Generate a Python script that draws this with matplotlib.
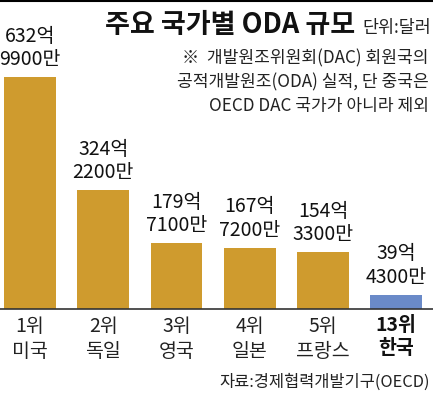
import numpy as np
import matplotlib
import matplotlib.pyplot as plt
from matplotlib.lines import Line2D

matplotlib.use('Agg')
plt.rcParams['font.family'] = ['Noto Sans CJK KR', 'DejaVu Sans']

# ODA 규모 (억 달러)
ranks = ['1위', '2위', '3위', '4위', '5위', '13위']
countries = ['미국', '독일', '영국', '일본', '프랑스', '한국']
values = [632.99, 324.22, 179.71, 167.72, 154.33, 39.43]
value_labels = ['632억\n9900만', '324억\n2200만', '179억\n7100만',
                '167억\n7200만', '154억\n3300만', '39억\n4300만']

GOLD = '#CF9B2E'
BLUE = '#6A8AC8'
colors = [GOLD] * 5 + [BLUE]

fig = plt.figure(figsize=(4.33, 3.93), dpi=100)
ax = fig.add_axes([0, 84/393, 1, 309/393])

x = np.arange(len(values))
ax.bar(x, values, width=0.71, color=colors, zorder=2)
ax.set_xlim(-0.411, 5.504)
ax.set_ylim(0, 843)

for xi, v, lab in zip(x, values, value_labels):
    ax.annotate(lab, (xi, v), xytext=(0, 5), textcoords='offset points',
                ha='center', va='bottom', fontsize=14, linespacing=1.15,
                fontweight='medium', color='#111111')

ax.set_xticks(x)
ax.set_xticklabels([r + '\n' + c for r, c in zip(ranks, countries)],
                   fontsize=14, linespacing=1.25, color='#222222')
ax.get_xticklabels()[-1].set_fontweight('bold')
ax.get_xticklabels()[-1].set_color('#111111')
ax.tick_params(axis='x', length=0, pad=5)
ax.set_yticks([])
for s in ['top', 'left', 'right']:
    ax.spines[s].set_visible(False)
ax.spines['bottom'].set_color('#333333')
ax.spines['bottom'].set_linewidth(1.2)
ax.patch.set_alpha(0)

# title / unit
fig.text(355/433, 1 - 33/393, '주요 국가별 ODA 규모', ha='right', va='baseline',
         fontsize=19.5, fontweight='bold', color='#111111')
fig.text(431/433, 1 - 33/393, '단위:달러', ha='right', va='baseline',
         fontsize=12.5, color='#222222')

# note
note = ['※  개발원조위원회(DAC) 회원국의',
        '공적개발원조(ODA) 실적, 단 중국은',
        'OECD DAC 국가가 아니라 제외']
for i, line in enumerate(note):
    fig.text(429/433, 1 - (58 + 24*i)/393, line, ha='right', va='center',
             fontsize=12.3, color='#222222')

fig.text(430/433, 1 - 382/393, '자료:경제협력개발기구(OECD)', ha='right',
         va='center', fontsize=11.8, color='#222222')

fig.add_artist(Line2D([0, 1], [0.997, 0.997], color='black', lw=1.5,
                      transform=fig.transFigure))

fig.savefig('out.png', dpi=100)
